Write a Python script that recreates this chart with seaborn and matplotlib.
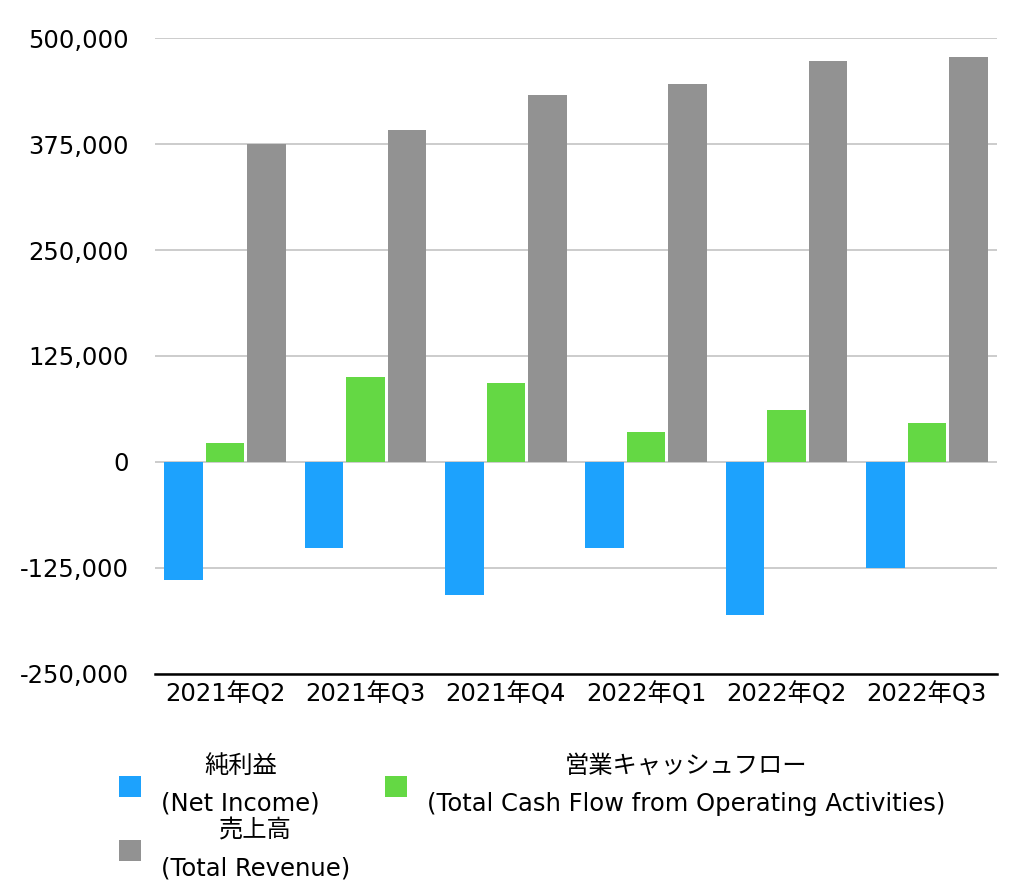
import pandas as pd
import matplotlib.pyplot as plt
import seaborn as sns
from matplotlib.ticker import FuncFormatter

# data
quarters = ['2021年Q2', '2021年Q3', '2021年Q4', '2022年Q1', '2022年Q2', '2022年Q3']
net_income = [-139000, -102000, -156500, -101000, -180000, -124600]
cash_flow = [22800, 100600, 93500, 35700, 61700, 46400]
revenue = [375400, 391900, 433100, 446100, 473300, 478000]

series_labels = ['純利益\n(Net Income)',
                 '営業キャッシュフロー\n(Total Cash Flow from Operating Activities)',
                 '売上高\n(Total Revenue)']
colors = ['#1da2fd', '#64d844', '#929292']

df = pd.DataFrame({
    'quarter': quarters * 3,
    'value': net_income + cash_flow + revenue,
    'series': [series_labels[0]] * 6 + [series_labels[1]] * 6 + [series_labels[2]] * 6,
})

sns.set_theme(style="white")
plt.rcParams['font.family'] = ['DejaVu Sans', 'Noto Sans CJK JP']

fig = plt.figure(figsize=(10.28, 8.9), dpi=100)
ax = fig.add_axes([0.1508, 0.2427, 0.819, 0.7146])

sns.barplot(data=df, x='quarter', y='value', hue='series', palette=colors,
            width=0.886, gap=0.07, saturation=1, linewidth=0, ax=ax, legend=True)

ax.set_ylim(-250000, 500000)
ax.set_xlim(-0.5, 5.5)
ax.set_yticks([-250000, -125000, 0, 125000, 250000, 375000, 500000])
ax.yaxis.set_major_formatter(FuncFormatter(lambda v, p: f"{int(v):,}"))
ax.grid(axis='y', color='#bfbfbf', linewidth=1.1)
ax.set_axisbelow(True)
for s in ['top', 'right', 'left']:
    ax.spines[s].set_visible(False)
ax.spines['bottom'].set_color('black')
ax.spines['bottom'].set_linewidth(1.8)
ax.tick_params(axis='y', length=0, pad=19, labelsize=17.5, labelcolor='black')
ax.tick_params(axis='x', length=0, pad=6, labelsize=17.5, labelcolor='black')
ax.set_xlabel("")
ax.set_ylabel("")

# legend below the plot, two columns
handles, labels = ax.get_legend_handles_labels()
ax.get_legend().remove()
order = [0, 2, 1]
leg = fig.legend([handles[i] for i in order], [labels[i] for i in order],
                 ncol=2, loc='upper left', bbox_to_anchor=(0.116, 0.1525),
                 frameon=False, fontsize=17.5, handlelength=0.9, handleheight=0.95,
                 handletextpad=0.82, columnspacing=1.44, labelspacing=0.1,
                 borderpad=0, borderaxespad=0)
for t in leg.get_texts():
    t.set_multialignment('center')
    t.set_linespacing(1.72)
    t.set_color('black')

plt.savefig('out.png', dpi=100)
plt.close()
